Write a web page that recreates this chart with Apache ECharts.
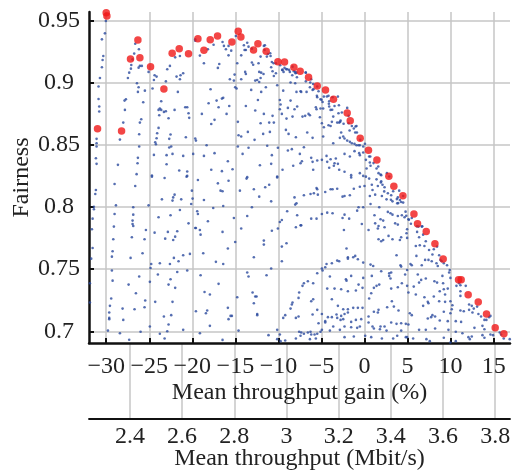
<!DOCTYPE html>
<html>
<head>
<meta charset="utf-8">
<script src="https://cdn.jsdelivr.net/npm/echarts@6.0.0/dist/echarts.min.js"></script>
<style>
html,body{margin:0;padding:0;background:#fff;}
#chart{width:523px;height:473px;}
</style>
</head>
<body>
<div id="chart"></div>
<script>
// ---- Data ----
const gainTicks = [-30, -25, -20, -15, -10, -5, 0, 5, 10, 15];
const fairTicks = [0.7, 0.75, 0.8, 0.85, 0.9, 0.95];
const rateTicks = [2.4, 2.6, 2.8, 3.0, 3.2, 3.4, 3.6, 3.8];
const baseRate = 3.299;           // Mbit/s at 0 % gain
const gainRange = [-32, 16.9];
const fairRange = [0.6906, 0.957];

// Pareto-optimal configurations (red)
const paretoPoints = [
[-31.01,0.8631],[-30.00,0.9564],[-29.92,0.9538],[-28.22,0.8612],[-27.18,0.9192],[-26.32,0.9345],[-26.09,0.9202],[-24.85,0.9130],[-23.30,0.8950],[-22.34,0.9238],[-21.52,0.9275],[-20.44,0.9234],[-19.35,0.9355],[-18.65,0.9262],[-17.92,0.9347],[-17.07,0.9377],[-15.40,0.9329],[-14.67,0.9415],[-14.36,0.9369],[-12.89,0.9264],[-12.38,0.9315],[-11.42,0.9254],[-10.06,0.9170],[-9.29,0.9168],[-8.20,0.9125],[-7.47,0.9093],[-6.50,0.9044],[-5.49,0.8974],[-4.53,0.8942],[-3.60,0.8867],[-2.01,0.8757],[-1.66,0.8695],[-0.50,0.8553],[0.46,0.8457],[1.44,0.8379],[2.83,0.8249],[3.41,0.8167],[4.46,0.8091],[5.74,0.7944],[6.16,0.7866],[7.17,0.7803],[8.18,0.7705],[9.14,0.7582],[10.92,0.7416],[11.23,0.7416],[12.04,0.7294],[13.21,0.7236],[14.17,0.7139],[15.18,0.7029],[16.19,0.6980]
];

// All evaluated configurations (blue)
const allPoints = [
[-30.04,0.9498],[-30.15,0.9398],[-30.50,0.9350],[-30.34,0.9216],[-30.42,0.9184],[-30.50,0.9125],[-30.73,0.9039],[-30.89,0.8970],[-30.89,0.8870],[-30.81,0.8809],[-30.81,0.8769],[-31.12,0.8549],[-31.12,0.8514],[-31.12,0.8487],[-31.20,0.8393],[-31.12,0.8348],[-26.63,0.9315],[-26.20,0.9270],[-26.75,0.9235],[-26.94,0.9189],[-27.09,0.9144],[-27.13,0.9114],[-27.33,0.9082],[-27.48,0.9039],[-26.09,0.9136],[-25.86,0.9136],[-26.24,0.9122],[-25.08,0.9088],[-24.38,0.9061],[-24.15,0.9050],[-24.46,0.9023],[-26.43,0.8996],[-26.24,0.8964],[-26.32,0.8927],[-25.51,0.8937],[-24.62,0.8954],[-27.71,0.8868],[-27.87,0.8857],[-27.83,0.8782],[-25.70,0.8844],[-28.02,0.8680],[-26.09,0.8680],[-25.93,0.8707],[-26.17,0.8586],[-28.41,0.8543],[-26.17,0.8487],[-26.32,0.8396],[-26.36,0.8353],[-28.64,0.8340],[-26.47,0.8265],[-24.69,0.8254],[-23.61,0.8852],[-23.77,0.8793],[-23.92,0.8782],[-23.61,0.8782],[-23.84,0.8739],[-23.30,0.8766],[-23.07,0.8771],[-22.76,0.8715],[-23.92,0.8637],[-24.08,0.8594],[-24.15,0.8554],[-24.31,0.8522],[-24.23,0.8506],[-22.53,0.8584],[-22.68,0.8549],[-22.45,0.8487],[-22.68,0.8479],[-22.99,0.8418],[-22.30,0.8428],[-22.99,0.8345],[-24.46,0.8420],[-21.83,0.9050],[-21.68,0.8927],[-21.44,0.9029],[-21.37,0.9061],[-21.06,0.9077],[-22.91,0.9109],[-22.60,0.9136],[-21.99,0.9205],[-21.44,0.9216],[-20.82,0.8803],[-20.59,0.8803],[-20.44,0.8755],[-20.36,0.8718],[-22.06,0.8782],[-20.75,0.8562],[-21.06,0.8412],[-21.52,0.8294],[-20.59,0.8286],[-20.59,0.8251],[-19.66,0.9339],[-19.90,0.8428],[-23.07,0.9012],
[-19.66,0.9350],[-19.12,0.9219],[-18.19,0.9270],[-17.53,0.9307],[-18.65,0.9157],[-16.87,0.9152],[-17.03,0.9120],[-16.49,0.9329],[-16.33,0.9297],[-16.10,0.9270],[-15.79,0.9297],[-15.48,0.9259],[-15.79,0.9221],[-14.94,0.9377],[-14.01,0.9302],[-13.93,0.9264],[-13.78,0.9264],[-14.32,0.9221],[-13.62,0.9323],[-13.47,0.9291],[-13.08,0.9275],[-12.07,0.9211],[-11.69,0.9297],[-11.61,0.9264],[-11.22,0.9232],[-10.91,0.9216],[-10.76,0.9168],[-10.29,0.9157],[-10.84,0.9125],[-10.68,0.9093],[-10.53,0.9055],[-10.29,0.9077],[-13.08,0.9163],[-12.93,0.9146],[-12.31,0.9157],[-12.23,0.9088],[-12.00,0.9082],[-11.73,0.9071],[-13.86,0.9088],[-13.78,0.9071],[-14.78,0.9157],[-15.09,0.9066],[-15.17,0.9018],[-15.02,0.8964],[-14.86,0.8954],[-15.64,0.9029],[-14.32,0.9029],[-12.69,0.9018],[-12.46,0.9023],[-12.23,0.9007],[-12.07,0.9039],[-11.46,0.8964],[-12.00,0.8927],[-13.16,0.8943],[-10.14,0.8980],[-9.44,0.8937],[-9.83,0.8862],[-9.75,0.8825],[-9.83,0.8787],[-8.90,0.8798],[-8.59,0.8857],[-8.05,0.8996],[-7.90,0.8927],[-7.82,0.8809],[-8.13,0.8787],[-7.43,0.8932],[-9.52,0.9104],[-9.29,0.9120],[-8.98,0.9109],[-8.75,0.9104],[-8.67,0.9088],[-8.36,0.9130],[-8.21,0.9093],[-8.05,0.9088],[-7.90,0.9082],[-8.59,0.9002],[-17.88,0.8948],[-17.18,0.8857],[-16.56,0.8873],[-16.41,0.8879],[-16.95,0.8803],[-18.11,0.8836],[-15.71,0.8814],[-18.89,0.8750],[-16.02,0.8750],[-17.42,0.8702],[-17.80,0.8669],[-13.78,0.8814],[-12.38,0.8862],[-12.69,0.8777],[-11.69,0.8750],[-10.68,0.8734],[-11.07,0.8680],[-12.07,0.8675],[-10.53,0.8680],[-14.71,0.8686],[-13.55,0.8605],[-14.63,0.8578],[-14.32,0.8568],[-12.77,0.8541],[-11.77,0.8589],[-10.99,0.8605],[-9.60,0.8750],[-9.06,0.8712],[-8.36,0.8728],[-9.13,0.8621],[-8.82,0.8589],[-7.97,0.8562],[-19.66,0.8552],[-19.58,0.8535],[-18.34,0.8498],[-14.71,0.8487],[-13.47,0.8477],[-11.30,0.8493],[-10.06,0.8477],[-17.42,0.8434],[-18.65,0.8412],[-14.16,0.8428],[-10.76,0.8418],[-8.90,0.8455],[-8.44,0.8466],[-7.51,0.8428],[-15.87,0.8369],[-17.80,0.8300],[-16.56,0.8289],[-15.33,0.8305],[-12.15,0.8337],[-10.84,0.8348],[-9.52,0.8300],[-8.28,0.8332],[-7.43,0.8353],[-10.14,0.8246],[-13.62,0.8241],
[-6.81,0.9082],[-6.19,0.9029],[-6.81,0.9012],[-6.34,0.8964],[-5.96,0.8991],[-7.35,0.8927],[-6.73,0.8927],[-6.03,0.8943],[-5.49,0.8970],[-5.34,0.8932],[-5.49,0.8884],[-5.11,0.8868],[-4.87,0.8846],[-4.72,0.8889],[-4.18,0.8895],[-4.10,0.8852],[-3.71,0.8884],[-3.09,0.8889],[-5.65,0.8803],[-5.57,0.8787],[-5.11,0.8793],[-4.80,0.8793],[-3.94,0.8782],[-4.10,0.8809],[-3.63,0.8728],[-3.79,0.8686],[-3.17,0.8680],[-2.94,0.8680],[-2.78,0.8696],[-7.20,0.8728],[-6.89,0.8734],[-6.50,0.8750],[-6.34,0.8739],[-5.18,0.8723],[-4.95,0.8675],[-4.72,0.8643],[-4.18,0.8659],[-3.94,0.8653],[-3.48,0.8814],[-3.02,0.8755],[-2.63,0.8761],[-2.01,0.8798],[-1.85,0.8734],[-1.85,0.8675],[-1.47,0.8653],[-0.93,0.8653],[-1.24,0.8632],[-1.08,0.8600],[-2.71,0.8600],[-2.86,0.8557],[-2.47,0.8568],[-2.32,0.8552],[-2.01,0.8535],[-1.70,0.8525],[-1.47,0.8514],[-1.16,0.8509],[-0.93,0.8498],[-0.69,0.8498],[-0.54,0.8498],[-0.15,0.8487],[-6.65,0.8600],[-6.03,0.8557],[-4.80,0.8568],[-3.63,0.8514],[-7.04,0.8482],[-7.27,0.8369],[-6.19,0.8396],[-6.03,0.8364],[-5.49,0.8375],[-4.95,0.8380],[-4.41,0.8412],[-4.33,0.8364],[-3.94,0.8385],[-3.33,0.8391],[-3.48,0.8353],[-3.56,0.8332],[-3.09,0.8348],[-2.32,0.8428],[-1.70,0.8407],[-1.16,0.8450],[-0.62,0.8434],[-0.54,0.8418],[-0.15,0.8439],[0.54,0.8407],[0.62,0.8359],[0.70,0.8332],[0.16,0.8380],[-2.94,0.8300],[-2.32,0.8284],[-1.55,0.8257],[-0.54,0.8273],[-0.15,0.8251],[0.24,0.8310],[1.40,0.8310],[1.63,0.8273],[1.86,0.8262],[1.94,0.8257],[-5.96,0.8300],[-4.10,0.8316],[2.87,0.8246],
[2.60,0.8273],[1.90,0.8198],[2.29,0.8126],[3.07,0.8059],[3.76,0.8064],[3.92,0.8032],[4.77,0.7963],[4.85,0.7930],[5.16,0.7898],[5.39,0.7866],[6.09,0.7845],[6.71,0.7845],[-10.95,0.9238],[-11.57,0.9302],[-11.34,0.9211],[-10.56,0.9158],[-9.79,0.9142],[-9.56,0.9104],[-9.40,0.9088],[-9.09,0.9110],[-8.39,0.9061],[-8.01,0.9077],[-7.85,0.9045],[-6.84,0.9083],[-6.30,0.9002],[-5.92,0.8949],[-5.53,0.8895],[-4.99,0.8863],[-4.37,0.8890],[-4.14,0.8831],[-3.75,0.8783],[-2.97,0.8820],[-2.82,0.8686],[-2.43,0.8670],[-1.73,0.8616],[-1.04,0.8649],[-0.88,0.8600],[-0.50,0.8541],[0.05,0.8509],[0.67,0.8407],[1.05,0.8354],[1.60,0.8327],
[-29.03,0.8186],[-31.20,0.8137],[-31.27,0.8105],[-26.63,0.8170],[-24.69,0.8245],[-23.22,0.8234],[-20.67,0.8245],[-22.06,0.8100],[-22.22,0.8078],[-22.30,0.8052],[-23.53,0.8062],[-21.29,0.8062],[-20.13,0.8025],[-20.05,0.8132],[-19.97,0.8068],[-31.43,0.8003],[-31.43,0.7982],[-28.87,0.8014],[-26.86,0.7998],[-25.08,0.8014],[-29.03,0.7944],[-26.86,0.7939],[-31.58,0.7907],[-26.94,0.7891],[-26.94,0.7864],[-26.86,0.7848],[-29.11,0.7843],[-23.92,0.7918],[-22.53,0.7934],[-21.44,0.7977],[-20.44,0.7869],[-19.66,0.7832],[-25.39,0.7816],[-31.66,0.7821],[-24.38,0.7794],[-22.84,0.7800],[-21.75,0.7805],[-21.99,0.7762],[-23.15,0.7746],[-22.22,0.7735],[-27.02,0.7757],[-29.18,0.7741],[-25.55,0.7741],[-31.58,0.7671],[-29.26,0.7644],[-29.34,0.7601],[-31.74,0.7585],[-27.17,0.7591],[-25.78,0.7628],[-21.06,0.7612],[-20.28,0.7623],[-22.14,0.7591],[-21.60,0.7564],[-22.60,0.7542],[-23.77,0.7548],[-24.77,0.7542],[-24.85,0.7510],[-29.34,0.7489],[-21.75,0.7478],[-20.59,0.7489],[-24.00,0.7457],[-26.17,0.7441],[-29.26,0.7408],[-27.40,0.7376],[-24.93,0.7398],[-22.53,0.7419],[-22.76,0.7376],[-21.99,0.7350],[-26.55,0.7307],[-31.89,0.7387],[-29.42,0.7264],[-29.57,0.7205],[-29.65,0.7151],[-29.65,0.7108],[-29.65,0.7098],[-28.10,0.7183],[-26.71,0.7178],[-28.02,0.7092],[-25.47,0.7248],[-25.55,0.7194],[-24.31,0.7237],[-22.30,0.7237],[-31.89,0.7232],[-23.30,0.7119],[-22.45,0.7130],[-22.76,0.7055],[-29.80,0.7006],[-28.41,0.6985],[-26.01,0.6996],[-24.93,0.7039],[-23.77,0.6980],[-22.91,0.7001],[-21.06,0.7012],[-27.33,0.6932],[-26.17,0.6905],[-23.22,0.6942],
[-19.35,0.8218],[-17.03,0.8191],[-15.79,0.8212],[-16.72,0.8132],[-16.49,0.8127],[-13.70,0.8229],[-14.47,0.8132],[-12.85,0.8143],[-11.53,0.8159],[-11.07,0.8180],[-10.14,0.8239],[-12.23,0.8084],[-10.84,0.8046],[-18.65,0.8057],[-17.57,0.7993],[-16.41,0.8009],[-13.08,0.7998],[-8.13,0.8078],[-7.90,0.8030],[-8.05,0.8020],[-19.43,0.7966],[-19.35,0.7944],[-18.19,0.7886],[-19.12,0.7816],[-19.04,0.7778],[-19.58,0.7832],[-16.49,0.7800],[-15.17,0.7912],[-13.62,0.7928],[-14.32,0.7827],[-8.98,0.7966],[-7.82,0.7934],[-9.60,0.7896],[-9.83,0.7880],[-7.97,0.7837],[-7.43,0.7853],[-10.06,0.7827],[-10.76,0.7810],[-11.69,0.7730],[-11.69,0.7698],[-15.02,0.7719],[-9.06,0.7709],[-9.60,0.7682],[-18.73,0.7628],[-15.87,0.7666],[-17.26,0.7559],[-16.41,0.7542],[-12.85,0.7596],[-10.84,0.7505],[-9.60,0.7564],[-19.04,0.7451],[-13.62,0.7473],[-13.47,0.7441],[-11.38,0.7451],[-16.95,0.7382],[-18.58,0.7317],[-17.96,0.7296],[-13.00,0.7312],[-12.69,0.7280],[-12.54,0.7280],[-14.78,0.7274],[-12.85,0.7226],[-19.58,0.7162],[-18.27,0.7167],[-18.42,0.7146],[-15.87,0.7189],[-15.40,0.7124],[-15.56,0.7124],[-15.79,0.7098],[-12.46,0.7140],[-12.46,0.7130],[-7.59,0.7312],[-7.66,0.7269],[-8.36,0.7232],[-8.44,0.7216],[-8.59,0.7183],[-9.21,0.7130],[-9.44,0.7108],[-7.97,0.7108],[-7.66,0.7119],[-17.96,0.7044],[-19.12,0.6985],[-16.49,0.6931],[-14.63,0.7006],[-11.15,0.6969],[-10.14,0.7012],[-9.83,0.6974],[-10.14,0.6937],[-9.75,0.6921],[-9.21,0.6926],[-7.97,0.6942],[-7.59,0.6996],[-7.43,0.6964],
[-1.55,0.8239],[0.16,0.8245],[0.54,0.8229],[1.40,0.8223],[1.94,0.8207],[-5.57,0.8154],[-5.49,0.8143],[-4.56,0.8121],[-3.94,0.8143],[-3.71,0.8143],[-3.17,0.8148],[-2.55,0.8084],[-2.32,0.8089],[-1.70,0.8095],[-1.24,0.8148],[-0.54,0.8164],[0.00,0.8170],[0.85,0.8180],[0.93,0.8137],[1.55,0.8170],[2.09,0.8180],[2.33,0.8159],[2.71,0.8111],[3.10,0.8095],[3.33,0.8127],[4.03,0.8132],[3.87,0.8078],[4.11,0.8057],[4.26,0.8041],[4.49,0.8089],[-7.04,0.8095],[-6.27,0.8105],[-5.88,0.8111],[-5.42,0.8100],[0.62,0.8089],[1.24,0.8100],[2.02,0.8089],[2.56,0.8062],[3.25,0.8046],[3.80,0.8030],[4.49,0.8036],[-0.69,0.7998],[-0.15,0.7998],[-0.85,0.7971],[0.70,0.8025],[1.71,0.7998],[-4.95,0.7944],[-4.33,0.7955],[-3.71,0.7950],[-2.32,0.7939],[-2.55,0.7912],[-1.78,0.7907],[-6.19,0.7907],[-5.57,0.7907],[-7.35,0.7853],[1.16,0.7934],[1.86,0.7902],[2.17,0.7891],[2.71,0.7961],[3.02,0.7950],[3.25,0.7939],[3.87,0.7928],[4.34,0.7934],[4.65,0.7918],[-0.31,0.7864],[1.24,0.7869],[1.63,0.7848],[1.55,0.7827],[0.47,0.7816],[2.33,0.7837],[3.56,0.7869],[3.87,0.7859],[-2.39,0.7816],[1.63,0.7741],[2.17,0.7735],[1.94,0.7725],[2.79,0.7768],[3.25,0.7741],[4.26,0.7757],[4.11,0.7735],[4.88,0.7789],[-2.09,0.7666],[-1.93,0.7596],[-1.93,0.7585],[-1.31,0.7596],[-1.08,0.7607],[-0.77,0.7580],[-3.17,0.7569],[-2.94,0.7564],[-3.79,0.7548],[-4.41,0.7542],[-4.56,0.7516],[-4.95,0.7505],[-4.87,0.7489],[-0.15,0.7553],[0.70,0.7537],[1.01,0.7526],[3.72,0.7612],[4.18,0.7532],[4.26,0.7521],[1.94,0.7484],[2.87,0.7467],[3.10,0.7473],[2.87,0.7446],[3.02,0.7425],[4.72,0.7457],[4.34,0.7387],[-5.49,0.7467],[-4.02,0.7441],[-1.55,0.7446],[-2.16,0.7419],[-2.09,0.7408],[-0.69,0.7376],[-0.15,0.7430],[-0.23,0.7350],[-1.00,0.7328],[-1.93,0.7323],[-2.71,0.7339],[-3.48,0.7344],[-4.33,0.7344],[-6.58,0.7403],[-7.04,0.7387],[-7.20,0.7366],[-5.96,0.7387],[0.85,0.7446],[1.09,0.7350],[0.78,0.7307],[1.40,0.7366],[1.71,0.7376],[3.10,0.7344],[3.87,0.7355],[-3.79,0.7258],[-5.96,0.7258],[-6.19,0.7242],[-6.03,0.7135],[-5.49,0.7173],[-4.95,0.7140],[-3.09,0.7205],[-2.47,0.7178],[-1.93,0.7178],[-2.32,0.7140],[-3.25,0.7135],[-2.71,0.7124],[-3.17,0.7108],[-1.93,0.7151],[-1.31,0.7189],[-0.77,0.7189],[-0.23,0.7189],[0.54,0.7264],[3.18,0.7242],[3.41,0.7199],[2.63,0.7194],[1.09,0.7157],[1.55,0.7151],[1.63,0.7173],[3.95,0.7167],[3.10,0.7071],[-5.34,0.7065],[-4.56,0.7082],[-4.56,0.7071],[-4.25,0.7114],[-3.79,0.7114],[-2.78,0.7092],[-2.47,0.7098],[-1.55,0.7076],[-1.00,0.7092],[-0.38,0.7098],[-0.85,0.7028],[-0.54,0.7039],[-1.55,0.7033],[-2.32,0.7039],[-3.63,0.7039],[-4.02,0.7006],[-2.86,0.7012],[-4.95,0.7012],[-5.11,0.6996],[-7.35,0.6990],[-7.04,0.6980],[-6.58,0.6990],[-6.27,0.6996],[-6.19,0.6974],[-5.80,0.6974],[-5.49,0.6980],[-6.34,0.6937],[-5.65,0.6942],[0.47,0.7119],[0.93,0.7039],[1.09,0.7023],[1.86,0.7039],[2.33,0.7039],[3.72,0.7060],[4.26,0.7065],[4.80,0.7060],[4.26,0.7006],[2.56,0.7006],[1.79,0.7017],[0.47,0.7071],[-2.32,0.6953],[-1.24,0.6958],[0.08,0.6964],[0.78,0.6953],[2.02,0.6942],[3.33,0.6942],[3.80,0.6964],[4.80,0.6953],
[5.10,0.7902],[5.49,0.7912],[4.95,0.7821],[4.95,0.7752],[6.27,0.7843],[6.65,0.7843],[6.11,0.7800],[6.34,0.7757],[6.81,0.7778],[5.96,0.7687],[6.42,0.7693],[6.96,0.7687],[6.03,0.7607],[7.12,0.7725],[7.50,0.7655],[8.05,0.7660],[7.89,0.7618],[7.43,0.7575],[7.04,0.7575],[7.81,0.7564],[8.43,0.7682],[8.67,0.7612],[8.82,0.7575],[8.97,0.7564],[8.36,0.7548],[8.51,0.7526],[6.65,0.7532],[5.49,0.7532],[5.34,0.7542],[9.21,0.7548],[9.59,0.7532],[9.90,0.7494],[9.83,0.7473],[9.98,0.7430],[4.95,0.7494],[6.19,0.7457],[6.58,0.7414],[7.12,0.7425],[6.34,0.7392],[8.12,0.7403],[8.43,0.7392],[9.05,0.7446],[9.13,0.7387],[4.95,0.7366],[5.72,0.7360],[5.10,0.7312],[9.67,0.7344],[9.21,0.7339],[8.74,0.7323],[9.36,0.7296],[10.68,0.7366],[10.99,0.7387],[11.14,0.7371],[11.76,0.7366],[11.14,0.7323],[11.14,0.7285],[5.96,0.7296],[6.96,0.7274],[6.81,0.7205],[7.35,0.7237],[7.43,0.7226],[8.05,0.7280],[8.67,0.7242],[9.36,0.7237],[9.98,0.7242],[10.21,0.7210],[10.14,0.7178],[9.98,0.7146],[12.15,0.7216],[12.46,0.7205],[12.69,0.7183],[13.08,0.7199],[12.54,0.7151],[11.53,0.7162],[11.14,0.7167],[12.15,0.7173],[5.26,0.7146],[5.49,0.7130],[5.10,0.7055],[7.74,0.7114],[7.89,0.7130],[8.20,0.7119],[7.35,0.7103],[9.21,0.7157],[8.74,0.7087],[9.67,0.7082],[10.60,0.7082],[11.22,0.7076],[13.23,0.7140],[13.54,0.7119],[13.93,0.7092],[14.16,0.7092],[14.47,0.7114],[14.63,0.7124],[13.70,0.7044],[13.93,0.7017],[12.77,0.7028],[11.37,0.6985],[10.60,0.6996],[14.63,0.6974],[14.93,0.6969],[15.71,0.6990],[15.86,0.6974],[16.17,0.6942],[16.87,0.6937],[6.34,0.7012],[7.12,0.7012],[8.20,0.7023],[9.75,0.7012],[9.21,0.6948],[12.07,0.6953],[12.23,0.6937],[12.46,0.6958],[13.70,0.6969],[13.93,0.6948],[4.95,0.6953],[5.65,0.6942],[7.19,0.6937],[7.58,0.6921],[9.98,0.6910],[10.60,0.6921]
];

// ---- Chart ----
const FONT = 'Liberation Serif';
const FS = 24;
const TXT = '#222';
const GRIDC = '#c6c6c6';
const minusFmt = v => String(v).replace('-', '\u2212');

const chart = echarts.init(document.getElementById('chart'), null, {renderer: 'canvas'});
chart.setOption({
  animation: false,
  backgroundColor: '#fff',
  grid: [
    {left: 89, right: 13, top: 12, bottom: 130, containLabel: false, outerBoundsMode: 'none'},
    {left: 89, right: 13, top: 343, bottom: 54, containLabel: false, outerBoundsMode: 'none'}
  ],
  xAxis: [
    {
      gridIndex: 0, type: 'value', min: gainRange[0], max: gainRange[1], position: 'bottom',
      name: 'Mean throughput gain (%)', nameLocation: 'middle', nameGap: 38, nameMoveOverlap: false,
      nameTextStyle: {fontFamily: FONT, fontSize: FS, color: TXT},
      axisLine: {show: true, onZero: false, lineStyle: {color: '#111', width: 2.5}},
      axisTick: {show: true, inside: true, length: 5, customValues: gainTicks, lineStyle: {color: '#111', width: 2}},
      axisLabel: {customValues: gainTicks, margin: 12, fontFamily: FONT, fontSize: FS, color: TXT, formatter: minusFmt},
      splitLine: {show: true, lineStyle: {color: GRIDC, width: 1.5}}
    },
    {
      gridIndex: 1, type: 'value',
      min: baseRate * (1 + gainRange[0] / 100), max: baseRate * (1 + gainRange[1] / 100),
      position: 'bottom',
      name: 'Mean throughput (Mbit/s)', nameLocation: 'middle', nameGap: 28, nameMoveOverlap: false,
      nameTextStyle: {fontFamily: FONT, fontSize: FS, color: TXT},
      axisLine: {show: true, onZero: false, lineStyle: {color: '#111', width: 1.8}},
      axisTick: {show: false, customValues: rateTicks},
      axisLabel: {customValues: rateTicks, margin: 6, fontFamily: FONT, fontSize: FS, color: TXT},
      splitLine: {show: true, lineStyle: {color: GRIDC, width: 1.5}}
    }
  ],
  yAxis: [
    {
      gridIndex: 0, type: 'value', min: fairRange[0], max: fairRange[1],
      name: 'Fairness', nameLocation: 'middle', nameGap: 55, nameRotate: 90, nameMoveOverlap: false,
      nameTextStyle: {fontFamily: FONT, fontSize: FS, color: TXT},
      axisLine: {show: true, onZero: false, lineStyle: {color: '#111', width: 2.5}},
      axisTick: {show: true, inside: true, length: 5, customValues: fairTicks, lineStyle: {color: '#111', width: 2}},
      axisLabel: {customValues: fairTicks, align: 'center', margin: 30, fontFamily: FONT, fontSize: FS, color: TXT},
      splitLine: {show: true, lineStyle: {color: GRIDC, width: 1.5}}
    },
    {gridIndex: 1, type: 'value', min: 0, max: 1, show: false}
  ],
  series: [
    {
      type: 'scatter', xAxisIndex: 0, yAxisIndex: 0, data: allPoints,
      symbolSize: 2.6, itemStyle: {color: '#2a4a9e'}, silent: true, z: 2
    },
    {
      type: 'scatter', xAxisIndex: 0, yAxisIndex: 0, data: paretoPoints,
      symbolSize: 7.5, itemStyle: {color: '#f01818'}, silent: true, z: 3
    }
  ]
});
</script>
</body>
</html>
